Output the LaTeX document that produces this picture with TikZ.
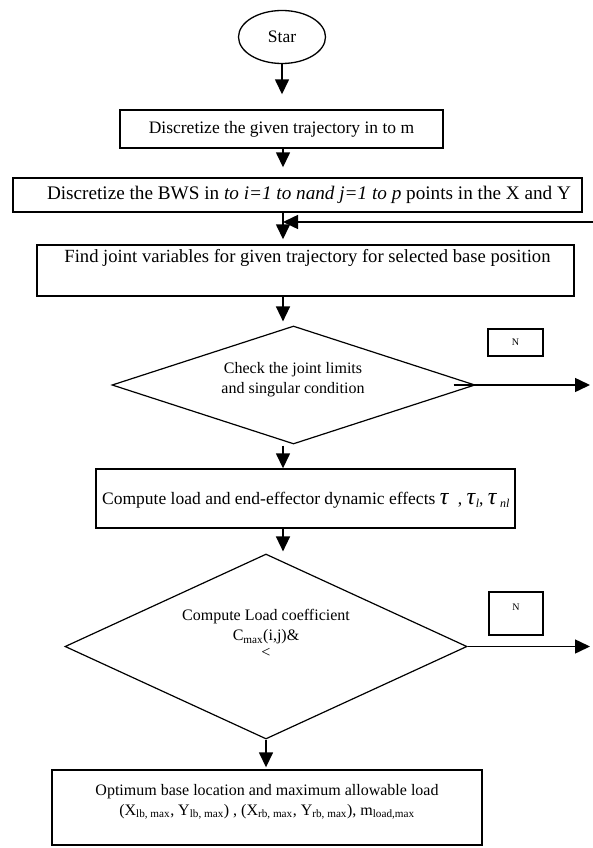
\documentclass[tikz,border=0pt]{standalone}
\usepackage{fontspec}
\setmainfont{Liberation Serif}
\usetikzlibrary{shapes.geometric,arrows.meta,calc}
\tikzset{
  box/.style={draw, line width=1.4pt, rectangle, inner sep=0pt},
  nbox/.style={draw, line width=1.2pt, rectangle, inner sep=0pt},
  dia/.style={draw, line width=1.2pt, diamond, inner sep=0pt},
  arr/.style={line width=1.5pt, -{Triangle[length=15pt,width=14pt]}},
  big/.style={font=\fontsize{17.5}{21}\selectfont, inner sep=0pt},
  mid/.style={font=\fontsize{16}{20}\selectfont, inner sep=0pt},
  small/.style={font=\fontsize{10}{12}\selectfont, inner sep=0pt},
}
\newcommand{\tausym}{{\fontsize{24}{26}\selectfont\textit{τ}}}
\newcommand{\tsub}[1]{\raisebox{-0.45ex}{\fontsize{12}{14}\selectfont\textit{#1}}}
\begin{document}
\begin{tikzpicture}[x=1pt,y=-1pt]
\useasboundingbox (0,0) rectangle (592,848);
\node[ellipse, draw, line width=1.3pt, minimum width=87pt, minimum height=53pt, inner sep=0pt, big] (star) at (282,37) {Star};
\node[box, minimum width=323pt, minimum height=38pt, big] (b1) at (281.5,129) {Discretize the given trajectory in to m};
\node[box, minimum width=569pt, minimum height=34pt] (b2) at (297.5,195) {};
\node[big, font=\fontsize{19.2}{22}\selectfont] (t2) at (309,195) {Discretize the BWS in \textit{to i=1 to nand j=1 to p} points in the X and Y};
\node[box, minimum width=537pt, minimum height=51pt] (b3) at (305.5,270.5) {};
\node[big, font=\fontsize{18.6}{22}\selectfont] (t3) at (307.5,258) {Find joint variables for given trajectory for selected base position};
\node[dia, minimum width=363pt, minimum height=118pt] (d1) at (293.5,385) {};
\node[mid, align=center] (t4) at (293,380) {Check the joint limits\\and singular condition};
\node[nbox, minimum width=55pt, minimum height=27pt, small] (n1) at (515.5,342.5) {N};
\node[box, minimum width=419pt, minimum height=59pt] (b4) at (305.5,498.5) {};
\node[big, anchor=west] (t5) at (102,500) {Compute load and end-effector dynamic effects \tausym\ \ , \tausym\tsub{l}, \tausym\,\tsub{nl}};
\node[dia, minimum width=402pt, minimum height=185pt] (d2) at (266,646.5) {};
\node[mid] (t6) at (266,617) {Compute Load coefficient};
\node[mid] (t7) at (266,637) {C\textsubscript{max}(i,j)\&};
\node[mid] (t8) at (266,653) {<};
\node[nbox, minimum width=54pt, minimum height=43pt] (n2) at (516,613.5) {};
\node[small] (t9) at (516,607) {N};
\node[box, minimum width=430pt, minimum height=75pt] (b5) at (267,807.5) {};
\node[mid, align=center] (t10) at (267,802) {Optimum base location and maximum allowable load\\(X\textsubscript{lb, max}, Y\textsubscript{lb, max}) , (X\textsubscript{rb, max}, Y\textsubscript{rb, max}), m\textsubscript{load,max}};
\coordinate (ax) at (283,0);
\coordinate (fb) at (594,222);
\coordinate (r1) at (590,385);
\coordinate (r2) at (590,646.5);
\draw[arr, shorten >=15pt] (star.south) -- (star.south |- b1.north);
\draw[arr, shorten >=10pt] (ax |- b1.south) -- (ax |- b2.north);
\draw[arr, shorten >=5pt] (ax |- b2.south) -- (ax |- b3.north);
\draw[arr] (fb) -- (ax |- fb);
\draw[arr, shorten >=4pt] (ax |- b3.south) -- (ax |- d1.north);
\draw[arr] ($(d1.east)+(-22,0)$) -- (r1);
\draw[arr, shorten <=1pt] (ax |- d1.south) -- (ax |- b4.north);
\draw[arr, shorten >=2pt] (ax |- b4.south) -- (ax |- d2.north);
\draw[arr] (d2.east) -- (r2);
\draw[arr, shorten >=2pt] (d2.south) -- (d2.south |- b5.north);
\end{tikzpicture}
\end{document}
